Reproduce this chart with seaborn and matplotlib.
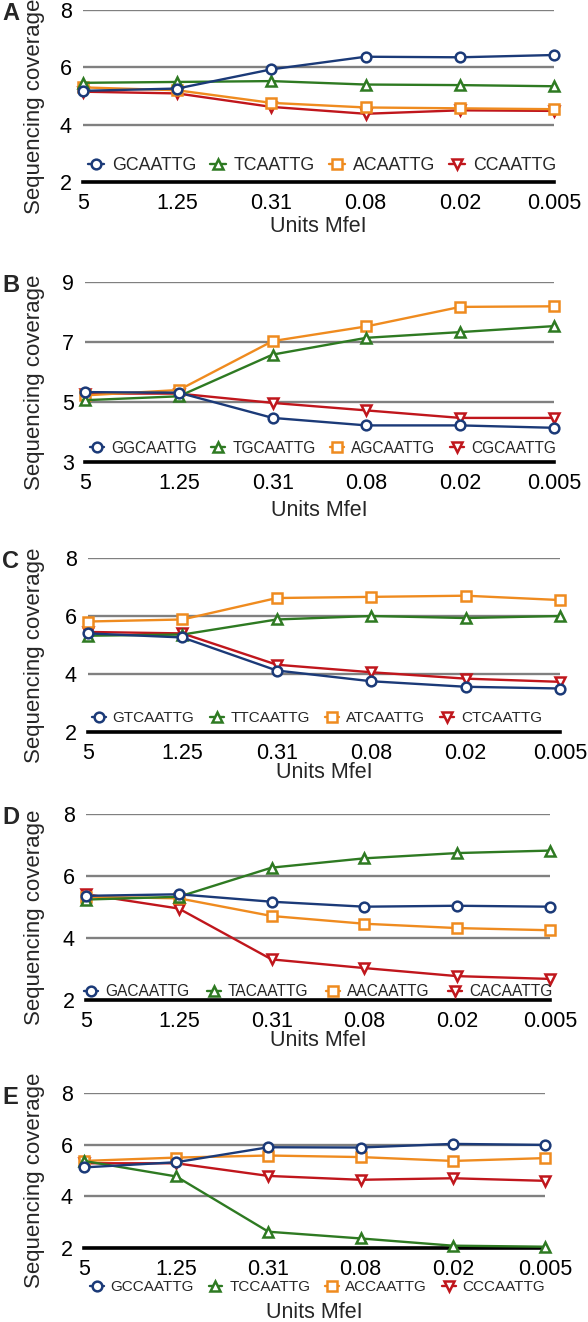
import matplotlib
matplotlib.use("Agg")
import matplotlib.pyplot as plt
import seaborn as sns
import numpy as np

sns.set_theme(style="white")
plt.rcParams['font.family'] = ['Liberation Sans', 'DejaVu Sans']

# ---------------- data ----------------
units = ["5", "1.25", "0.31", "0.08", "0.02", "0.005"]

a_names = ["GCAATTG", "TCAATTG", "ACAATTG", "CCAATTG"]
a_G = [5.18, 5.26, 5.93, 6.37, 6.35, 6.43]
a_T = [5.46, 5.49, 5.52, 5.40, 5.38, 5.34]
a_A = [5.30, 5.20, 4.76, 4.60, 4.57, 4.54]
a_C = [5.15, 5.09, 4.62, 4.38, 4.50, 4.48]

b_names = ["GGCAATTG", "TGCAATTG", "AGCAATTG", "CGCAATTG"]
b_G = [5.33, 5.31, 4.47, 4.22, 4.22, 4.14]
b_T = [5.06, 5.19, 6.58, 7.14, 7.33, 7.53]
b_A = [5.22, 5.40, 7.03, 7.52, 8.17, 8.19]
b_C = [5.28, 5.28, 4.97, 4.72, 4.47, 4.47]

c_names = ["GTCAATTG", "TTCAATTG", "ATCAATTG", "CTCAATTG"]
c_G = [5.40, 5.26, 4.12, 3.75, 3.56, 3.50]
c_T = [5.32, 5.36, 5.88, 6.00, 5.93, 6.00]
c_A = [5.81, 5.88, 6.62, 6.66, 6.70, 6.55]
c_C = [5.45, 5.40, 4.32, 4.06, 3.84, 3.73]

d_names = ["GACAATTG", "TACAATTG", "AACAATTG", "CACAATTG"]
d_G = [5.36, 5.41, 5.17, 5.01, 5.04, 5.01]
d_T = [5.24, 5.33, 6.27, 6.57, 6.74, 6.82]
d_A = [5.33, 5.28, 4.71, 4.46, 4.32, 4.25]
d_C = [5.41, 4.95, 3.31, 3.03, 2.77, 2.68]

e_names = ["GCCAATTG", "TCCAATTG", "ACCAATTG", "CCCAATTG"]
e_G = [5.12, 5.32, 5.90, 5.89, 6.03, 5.99]
e_T = [5.37, 4.77, 2.63, 2.37, 2.09, 2.05]
e_A = [5.37, 5.50, 5.58, 5.52, 5.37, 5.48]
e_C = [5.28, 5.28, 4.79, 4.64, 4.70, 4.60]

panel_letters = ["A", "B", "C", "D", "E"]
yticks_std = [2, 4, 6, 8]
yticks_b = [3, 5, 7, 9]

# ---------------- style ----------------
colors = ["#1b3a78", "#2e7a22", "#ef8b1f", "#c0161c"]
markers = ["o", "^", "s", "v"]
zorders = [6, 5, 4, 3]

W, H = 588, 1322
fig = plt.figure(figsize=(W / 100, H / 100), dpi=100)

layout = [
    dict(l=83, r=554, t=10, b=182, leg_y=166, leg_x=(88, 556), xl_y=227, lfs=12.8),
    dict(l=85, r=554, t=282, b=462, leg_y=448, leg_x=(90, 556), xl_y=510, lfs=11.2),
    dict(l=88, r=560, t=558, b=732, leg_y=718, leg_x=(92, 542), xl_y=772, lfs=11.0),
    dict(l=86, r=550, t=814, b=1000, leg_y=992, leg_x=(84, 552), xl_y=1040, lfs=11.2),
    dict(l=84, r=545, t=1093, b=1248, leg_y=1287, leg_x=(90, 545), xl_y=1313, lfs=11.0),
]

panels = [
    (a_names, [a_G, a_T, a_A, a_C], yticks_std),
    (b_names, [b_G, b_T, b_A, b_C], yticks_b),
    (c_names, [c_G, c_T, c_A, c_C], yticks_std),
    (d_names, [d_G, d_T, d_A, d_C], yticks_std),
    (e_names, [e_G, e_T, e_A, e_C], yticks_std),
]

xpos = np.arange(len(units))

for i, ((names, series, yt), L) in enumerate(zip(panels, layout)):
    ax = fig.add_axes([L['l'] / W, 1 - L['b'] / H, (L['r'] - L['l']) / W, (L['b'] - L['t']) / H])
    ax.set_facecolor("none")
    for name, vals, col, mk, z in zip(names, series, colors, markers, zorders):
        sns.lineplot(x=xpos, y=vals, ax=ax, color=col, marker=mk, markersize=7,
                     markerfacecolor="white", markeredgecolor=col, markeredgewidth=1.8,
                     linewidth=1.7, label=name, clip_on=False, zorder=z)
    ax.set_xlim(0, len(units) - 1)
    ax.set_ylim(yt[0], yt[-1])
    ax.set_yticks(yt)
    ax.set_xticks(xpos)
    ax.set_xticklabels(units)
    ax.tick_params(axis='both', length=0, labelsize=15.5, colors='black')
    ax.tick_params(axis='x', pad=8)
    ax.tick_params(axis='y', pad=8)
    ax.yaxis.grid(True, color="#808080", linewidth=1.7)
    ax.xaxis.grid(False)
    ax.set_axisbelow(True)
    for s in ["top", "right", "left"]:
        ax.spines[s].set_visible(False)
    ax.spines["bottom"].set_color("black")
    ax.spines["bottom"].set_linewidth(2.6)
    ax.spines["bottom"].set_zorder(2)
    ax.set_xlabel("")
    ax.set_ylabel("")

    handles, labels = ax.get_legend_handles_labels()
    if ax.get_legend() is not None:
        ax.get_legend().remove()
    lx0, lx1 = L['leg_x']
    fig.legend(handles, labels, loc="center",
               bbox_to_anchor=(lx0 / W, 1 - (L['leg_y'] + 9) / H, (lx1 - lx0) / W, 18 / H),
               mode="expand", ncol=4, frameon=False, fontsize=L['lfs'],
               handlelength=0.9, handletextpad=0.45, columnspacing=0.6,
               borderpad=0, borderaxespad=0)

    fig.text(35 / W, 1 - ((L['t'] + L['b']) / 2 + 10) / H, "Sequencing coverage",
             rotation=90, ha="center", va="center", fontsize=16)
    fig.text((L['l'] + L['r']) / 2 / W, 1 - L['xl_y'] / H, "Units MfeI",
             ha="center", va="center", fontsize=15.5)
    fig.text(2 / W, 1 - (L['t'] + 4) / H, panel_letters[i], ha="left", va="center",
             fontsize=17, fontweight="bold")

fig.savefig("out.png", dpi=100)
